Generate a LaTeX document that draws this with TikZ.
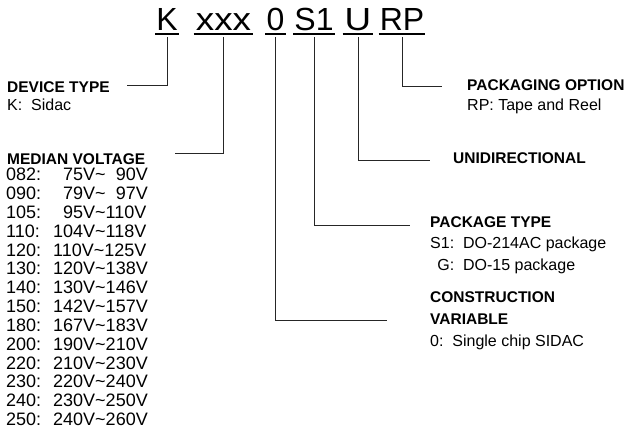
\documentclass[tikz,border=0pt]{standalone}
\usepackage{fontspec}
\usepackage{calc}
\setmainfont{Liberation Sans}
\begin{document}
\begin{tikzpicture}[x=1pt,y=-1pt,
  titletext/.style={inner xsep=1pt,inner ysep=0pt,text depth=0pt,anchor=south,font=\fontsize{32}{36}\selectfont},
  head/.style={anchor=base west,inner sep=0pt,font=\fontsize{15.5}{18}\bfseries\selectfont},
  desc/.style={anchor=base west,inner sep=0pt,font=\fontsize{16}{19}\selectfont},
  listtext/.style={anchor=base west,inner sep=0pt,font=\fontsize{18}{20}\selectfont},
  conn/.style={draw=black!85,line width=0.9pt},
  ul/.style={draw=black,line width=1.6pt}]
\useasboundingbox (0,0) rectangle (630,433);
% title parts
\node[titletext] (tK)  at (167,30.5) {K};
\node[titletext,inner xsep=2pt] (tX)  at (223.5,30.5) {\scalebox{1.15}[1]{xxx}};
\node[titletext] (t0)  at (275.5,30.5) {0};
\node[titletext] (tS)  at (314,30.5) {S1};
\node[titletext,inner xsep=2pt] (tU)  at (358,30.5) {\scalebox{1.15}[1]{U}};
\node[titletext] (tR)  at (402,30.5) {RP};
\foreach \n in {tK,tX,t0,tS,tU,tR}{
  \draw[ul] ([yshift=-3.5pt]\n.south west) -- ([yshift=-3.5pt]\n.south east);
}
% free ends of connectors
\coordinate (eK) at (127,85);
\coordinate (eX) at (175,153);
\coordinate (e0) at (387,320);
\coordinate (eS) at (410,225);
\coordinate (eU) at (430,160);
\coordinate (eR) at (442,86);
\draw[conn] ([yshift=-6.5pt]tK.south) |- (eK);
\draw[conn] ([yshift=-6.5pt]tX.south) |- (eX);
\draw[conn] ([yshift=-6.5pt]t0.south) |- (e0);
\draw[conn] ([yshift=-6.5pt]tS.south) |- (eS);
\draw[conn] ([yshift=-6.5pt]tU.south) |- (eU);
\draw[conn] ([yshift=-6.5pt]tR.south) |- (eR);
% device type
\node[head] (hdev) at (7,93) {DEVICE TYPE};
\node[desc] (ddev) at (7,111) {K:\ \ Sidac};
% median voltage
\node[head] (hmed) at (7,165) {MEDIAN VOLTAGE};
\foreach \i/\c/\v in {0/082/\hphantom{0}75V\textasciitilde\hphantom{0}90V,
                      1/090/\hphantom{0}79V\textasciitilde\hphantom{0}97V,
                      2/105/\hphantom{0}95V\textasciitilde110V,
                      3/110/104V\textasciitilde118V,
                      4/120/110V\textasciitilde125V,
                      5/130/120V\textasciitilde138V,
                      6/140/130V\textasciitilde146V,
                      7/150/142V\textasciitilde157V,
                      8/180/167V\textasciitilde183V,
                      9/200/190V\textasciitilde210V,
                      10/220/210V\textasciitilde230V,
                      11/230/220V\textasciitilde240V,
                      12/240/230V\textasciitilde250V,
                      13/250/240V\textasciitilde260V}{
  \node[listtext] (c\i) at (6,181+18.8*\i) {\c:};
  \node[listtext] (v\i) at (53,181+18.8*\i) {\v};
}
% packaging option
\node[head] (hpack) at (467,91) {PACKAGING OPTION};
\node[desc] (dpack) at (467,111) {RP: Tape and Reel};
% unidirectional
\node[head] (huni) at (453,164) {UNIDIRECTIONAL};
% package type
\node[head] (hpt) at (430,228) {PACKAGE TYPE};
\node[desc] (dpt1) at (430,248) {S1:\ \ DO-214AC package};
\node[desc] (dpt2) at (430,270) {\makebox[\widthof{S1:}][r]{G:}\ \ DO-15 package};
% construction variable
\node[head] (hcv1) at (430,302) {CONSTRUCTION};
\node[head] (hcv2) at (430,324) {VARIABLE};
\node[desc] (dcv) at (430,346) {0:\ \ Single chip SIDAC};
\end{tikzpicture}
\end{document}
